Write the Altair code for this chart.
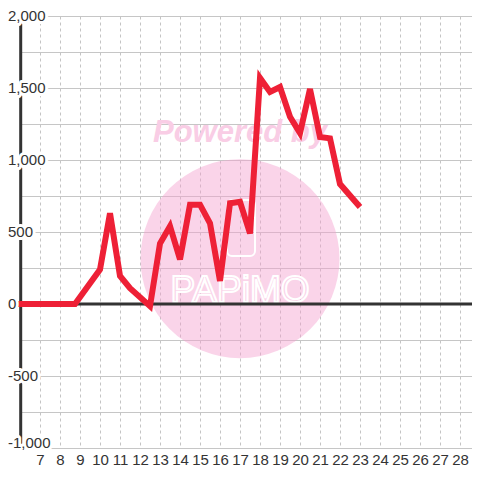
import altair as alt
import pandas as pd

# ---- data ----
hours = [5.85, 8.75, 10, 10.5, 11, 11.5, 12.5, 13, 13.5, 14, 14.5, 15, 15.5, 16,
         16.5, 17, 17.5, 18, 18.5, 19, 19.5, 20, 20.5, 21, 21.5, 22, 23]
values = [0, 0, 240, 630, 195, 110, -15, 420, 540, 310, 690, 690, 560, 160,
          700, 710, 490, 1570, 1472, 1507, 1300, 1187, 1493, 1160, 1150, 833, 674]
x_ticks = list(range(7, 29))
y_grid = list(range(-1000, 2001, 250))
y_label_values = [-1000, -500, 0, 500, 1000, 1500, 2000]
y_label_texts = [f"{v:,}" for v in y_label_values]

FONT = "Liberation Sans"
DARK = "#333333"
RED = "#ee2036"

xs = alt.Scale(domain=[6, 28.6], nice=False, zero=False)
ys = alt.Scale(domain=[-1000, 2000], nice=False, zero=False)

line_df = pd.DataFrame({"h": hours, "v": values})
lab_df = pd.DataFrame({"v": y_label_values, "t": y_label_texts})
one = pd.DataFrame({"h": [17], "v": [315]})

x_axis = alt.Axis(values=x_ticks, grid=True, gridDash=[3, 3], gridColor="#c4c4c4",
                  gridWidth=1, domain=False, ticks=False, labelFont=FONT,
                  labelFontSize=15, labelColor=DARK, labelPadding=4, title=None,
                  labelOverlap=False, labelFlush=False, labelBound=False,
                  labelSeparation=0)
y_axis = alt.Axis(values=y_grid, grid=True, gridColor="#c6c6c6", gridWidth=1,
                  domain=False, ticks=False, labels=False, title=None)


def X(f="h"):
    return alt.X(f"{f}:Q", scale=xs, axis=x_axis)


def Y(f="v"):
    return alt.Y(f"{f}:Q", scale=ys, axis=y_axis)


circle = alt.Chart(one).mark_point(filled=True, shape="circle", size=39600,
                                   color="#f5a0cf", opacity=0.45).encode(x=X(), y=Y())

powered = alt.Chart(pd.DataFrame({"h": [17], "v": [1190], "t": ["Powered by"]})).mark_text(
    font=FONT, fontSize=31, fontWeight="bold", fontStyle="italic", color="#f9cde5",
    align="center", baseline="middle").encode(x=X(), y=Y(), text="t:N")

logo_box = alt.Chart(pd.DataFrame({"h": [16.35], "h2": [17.75], "v": [722], "v2": [333]})).mark_rect(
    fillOpacity=0, stroke="white", strokeWidth=2, cornerRadius=5).encode(
    x=X(), x2="h2", y=Y(), y2="v2")

logo = alt.Chart(pd.DataFrame({"h": [17], "v": [92], "t": ["PAPiMO"]})).mark_text(
    font=FONT, fontSize=37, fill="#fbd5ea", fillOpacity=0, stroke="white",
    strokeWidth=2, align="center", baseline="middle").encode(x=X(), y=Y(), text="t:N")

zero_rule = alt.Chart(pd.DataFrame({"v": [0]})).mark_rule(color=DARK, strokeWidth=3).encode(
    y=Y())

y_domain = alt.Chart(pd.DataFrame({"a": [0]})).mark_rule(color=DARK, strokeWidth=3).encode(
    x=alt.value(0.7), y=alt.value(0), y2=alt.value(432))

red_line = alt.Chart(line_df).mark_line(color=RED, strokeWidth=6).encode(x=X(), y=Y())


def label_layer(halo, bottom):
    kw = dict(font=FONT, fontSize=15, align="left",
              baseline="alphabetic" if bottom else "middle")
    if halo:
        kw.update(color="white", stroke="white", strokeWidth=6, strokeJoin="round")
    else:
        kw.update(color=DARK)
    ch = alt.Chart(lab_df).mark_text(**kw).encode(
        x=alt.value(-12), y=Y(), text="t:N")
    if bottom:
        return ch.transform_filter(alt.datum.v == -1000)
    return ch.transform_filter(alt.datum.v != -1000)


chart = alt.layer(
    circle, powered, logo_box, logo, zero_rule, y_domain, red_line,
    label_layer(True, False), label_layer(True, True),
    label_layer(False, False), label_layer(False, True),
).properties(
    width=452, height=432,
    autosize=alt.AutoSizeParams(type="none"),
    padding={"left": 12, "top": 8, "right": 0, "bottom": 20},
    background="white",
).configure_view(stroke=None).configure_axis(labelOverlap=False)

chart.save("out.html", embed_options={"renderer": "svg", "actions": False})
